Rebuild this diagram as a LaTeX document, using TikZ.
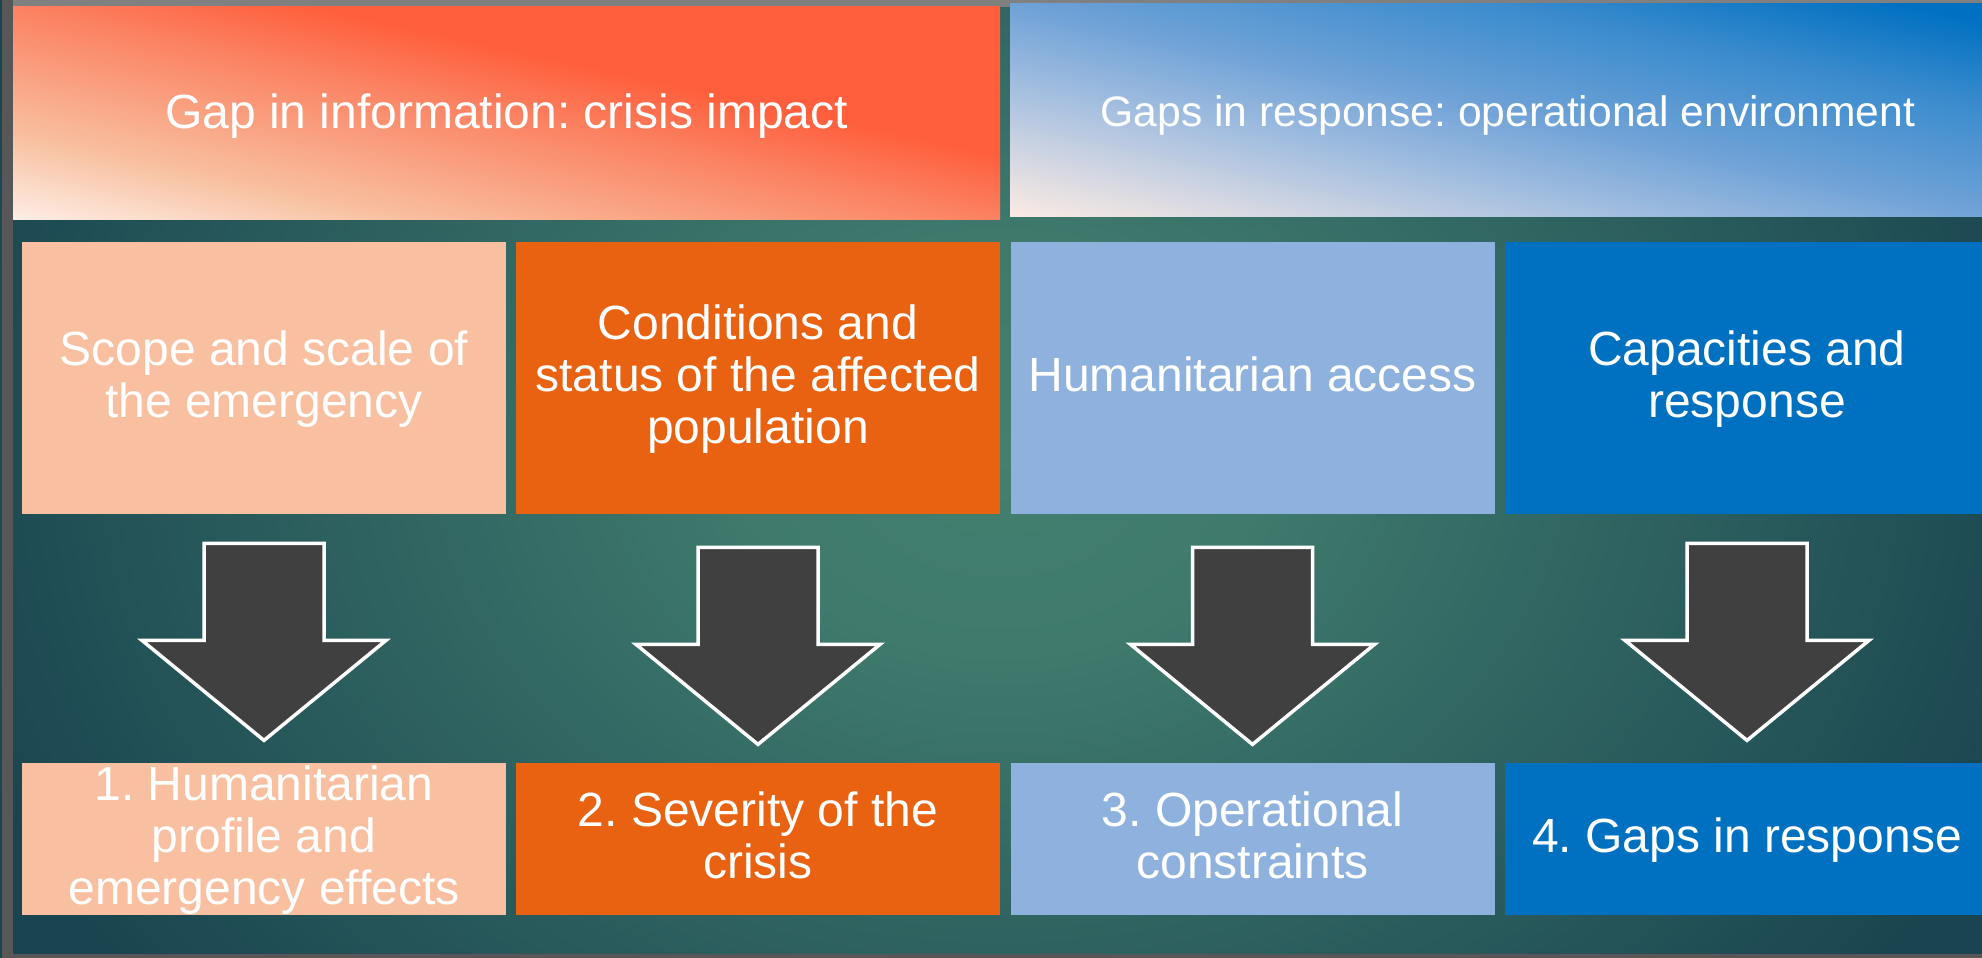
\documentclass[tikz,border=0pt]{standalone}
\usepackage{fontspec}
\setmainfont{Liberation Sans}
\usetikzlibrary{calc}
\frenchspacing

% palette
\definecolor{tealC}{HTML}{43806F}
\definecolor{tealM}{HTML}{3F7A6D}
\definecolor{tealE}{HTML}{1A4550}
\definecolor{frameD}{HTML}{575757}
\definecolor{frameL}{HTML}{808080}
\definecolor{salmon}{HTML}{F8C0A0}
\definecolor{burnt}{HTML}{E96212}
\definecolor{sky}{HTML}{8EB2DD}
\definecolor{royal}{HTML}{0070C0}
\definecolor{arrowgrey}{HTML}{404040}
\definecolor{warmA}{HTML}{FEEEE6}
\definecolor{warmB}{HTML}{F8C0A0}
\definecolor{warmC}{HTML}{FB8262}
\definecolor{warmD}{HTML}{FF5F3C}
\definecolor{coolA}{HTML}{FBEBE3}
\definecolor{coolB}{HTML}{D2D6E2}
\definecolor{coolC}{HTML}{A6C0E0}
\definecolor{coolD}{HTML}{6FA2D7}
\definecolor{coolE}{HTML}{3A8BCD}
\definecolor{coolF}{HTML}{0070C2}

% soft glow behind the slide content
\pgfdeclareradialshading{tealglow}{\pgfpoint{0bp}{0bp}}{%
  color(0bp)=(tealC); color(6bp)=(tealM); color(25bp)=(tealE); color(50bp)=(tealE)}

% One stretch of a corner-to-corner gradient over a box, painted as thin bands.
% #1,#2 lower left corner, #3 width, #4 height, #5..#6 gradient range (0 = lower
% left corner, 1 = upper right corner), #7 -> #8 colours, #9 number of bands.
\newcommand{\hgseg}[9]{%
  \foreach \k in {1,...,#9}{%
    \pgfmathsetmacro\cA{2*(#5+(#6-#5)*(\k-1)/#9)}%
    \pgfmathsetmacro\cB{2*(#5+(#6-#5)*\k/#9)+0.004}%
    \pgfmathsetmacro\mixp{100*(\k-0.5)/#9}%
    \fill[#8!\mixp!#7] ({#1+#3*(\cA+1)},{#2-#4}) -- ({#1+#3*(\cA-2)},{#2+2*#4})
      -- ({#1+#3*(\cB-2)},{#2+2*#4}) -- ({#1+#3*(\cB+1)},{#2-#4}) -- cycle;
  }%
}

% keeps every text line at the same ascent and descent
\newcommand{\rowstrut}{\rule[-5pt]{0pt}{24pt}}

\tikzset{
  header/.style={rectangle, inner sep=0pt, text=white},
  tile/.style={rectangle, inner sep=0pt, minimum width=242pt, text=white,
    align=center, font=\fontsize{24pt}{26pt}\selectfont},
  midtile/.style={tile, minimum height=136pt},
  endtile/.style={tile, minimum height=76pt},
  arrowbody/.style={fill=arrowgrey, draw=white, line width=1.75pt, line join=miter},
  downarrow/.pic={\path[arrowbody] (-60,0) -- (60,0) -- (60,-97) -- (122,-97)
    -- (0,-197) -- (-122,-97) -- (-60,-97) -- cycle;}
}

\begin{document}
\begin{tikzpicture}[x=0.5pt, y=0.5pt]
\useasboundingbox (0,0) rectangle (1982,958);
\clip (0,0) rectangle (1982,958);

% background
\shade[shading=tealglow] (-100,-342) rectangle (2100,1358);

% window frame
\fill[frameD] (2,0) rectangle (13,958);
\fill[frameL] (13,951) rectangle (1982,958);
\fill[frameD] (13,0) rectangle (1982,4);

% header gradients
\begin{scope}
  \clip (13,738) rectangle ++(987,213);
  \hgseg{13}{738}{987}{213}{0}{0.2}{warmA}{warmB}{24}
  \hgseg{13}{738}{987}{213}{0.2}{0.5}{warmB}{warmC}{36}
  \hgseg{13}{738}{987}{213}{0.5}{0.65}{warmC}{warmD}{18}
  \hgseg{13}{738}{987}{213}{0.65}{1}{warmD}{warmD}{1}
\end{scope}
\begin{scope}
  \clip (1010,741) rectangle ++(996,213);
  \hgseg{1010}{741}{996}{213}{0}{0.15}{coolA}{coolB}{18}
  \hgseg{1010}{741}{996}{213}{0.15}{0.3}{coolB}{coolC}{18}
  \hgseg{1010}{741}{996}{213}{0.3}{0.5}{coolC}{coolD}{24}
  \hgseg{1010}{741}{996}{213}{0.5}{0.75}{coolD}{coolE}{30}
  \hgseg{1010}{741}{996}{213}{0.75}{0.95}{coolE}{coolF}{24}
  \hgseg{1010}{741}{996}{213}{0.95}{1}{coolF}{coolF}{1}
\end{scope}

% headers
\node[header, minimum width=493.5pt, minimum height=106.5pt,
  font=\fontsize{24pt}{28pt}\selectfont, text height=20.5pt, text depth=5pt]
  (gapinfo) at (506.5,844.5) {Gap in information: crisis impact};
\node[header, minimum width=498pt, minimum height=106.5pt,
  font=\fontsize{21.3pt}{25pt}\selectfont, text height=21pt, text depth=4.5pt]
  (gapresp) at (1508,847.5) {Gaps in response: operational environment};

% dimensions
\node[midtile, fill=salmon] (scope) at (264,580)
  {\rowstrut Scope and scale of\\\rowstrut the emergency};
\node[midtile, fill=burnt] (cond) at (758,580)
  {\rowstrut Conditions and\\\rowstrut status of the affected\\\rowstrut population};
\node[midtile, fill=sky] (access) at (1252.5,580)
  {\rowstrut Humanitarian access};
\node[midtile, fill=royal] (capac) at (1747,580)
  {\rowstrut Capacities and\\\rowstrut response};

% outcomes
\node[endtile, fill=salmon] (profile) at (264,119)
  {\rowstrut 1. Humanitarian\\\rowstrut profile and\\\rowstrut emergency effects};
\node[endtile, fill=burnt] (severity) at (758,119)
  {\rowstrut 2. Severity of the\\\rowstrut crisis};
\node[endtile, fill=sky] (constr) at (1252.5,119)
  {\rowstrut 3. Operational\\\rowstrut constraints};
\node[endtile, fill=royal] (gaps) at (1747,119)
  {\rowstrut 4. Gaps in response};

% block arrows from each dimension to its outcome
\pic (arrA) at ($(scope.south)+(0,-29)$) {downarrow};
\pic (arrB) at ($(cond.south)+(0,-33)$) {downarrow};
\pic (arrC) at ($(access.south)+(0,-33)$) {downarrow};
\pic (arrD) at ($(capac.south)+(0,-29)$) {downarrow};
\end{tikzpicture}
\end{document}
